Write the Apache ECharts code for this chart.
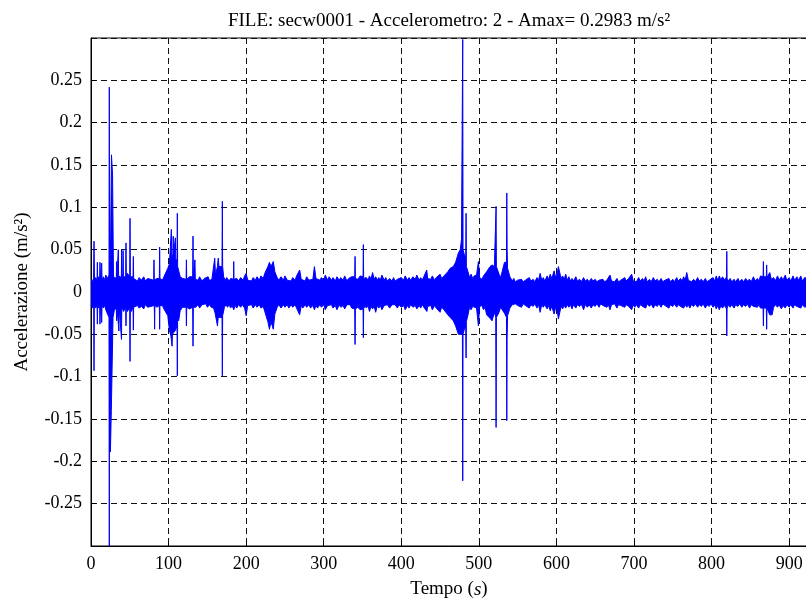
<!DOCTYPE html>
<html>
<head>
<meta charset="utf-8">
<script src="https://cdn.jsdelivr.net/npm/echarts@6/dist/echarts.min.js"></script>
<style>html,body{margin:0;padding:0;background:#fff;}#c{width:806px;height:600px;}</style>
</head>
<body>
<div id="c"></div>
<script>
const titleText = 'FILE: secw0001 - Accelerometro: 2 - Amax= 0.2983 m/s\u00B2';
const xAxisTitle = 'Tempo ({i|s})';
const yAxisTitle = 'Accelerazione (m/s\u00B2)';
const xTickInterval = 100;
const yTickInterval = 0.05;

// upper envelope of the signal [time s, acceleration m/s2]
const upperPeaks = [
[0,0.014],[2,0.016],[3.3,0.014],[3.9,0.06],[4.5,0.014],[6,0.017],[7.8,0.014],[8.2,0.035],[8.6,0.014],[10,0.018],
[11.2,0.014],[11.6,0.035],[12,0.014],[13.4,0.014],[13.8,0.034],[14.2,0.014],[16,0.018],[18,0.014],[19,0.02],[21,0.016],
[23.2,0.02],[23.6,0.242],[24.0,0.03],[25,0.04],[25.6,0.04],[26.4,0.162],[27.4,0.162],[27.8,0.138],[28.6,0.138],[29,0.018],
[31,0.016],[32.6,0.016],[33,0.036],[33.4,0.016],[34.8,0.016],[35.2,0.05],[35.6,0.016],[37,0.019],
[39.1,0.016],[39.5,0.05],[39.9,0.016],[41,0.022],[41.4,0.049],[41.8,0.018],[43,0.02],
[44.7,0.018],[45.1,0.058],[45.5,0.018],[47,0.022],[49.9,0.018],[50.3,0.087],[50.7,0.018],[52,0.02],
[54.2,0.018],[54.6,0.042],[55,0.016],[57,0.018],[60,0.013],[62,0.017],[65,0.014],[68,0.018],[70,0.013],[73,0.016],[75,0.014],
[80.8,0.014],[81.2,0.038],[81.6,0.014],[85,0.016],[88.1,0.016],[88.5,0.053],[88.9,0.016],[92,0.014],[94,0.018],[96,0.016],
[99,0.028],[101,0.033],[103.2,0.035],[103.6,0.074],[104,0.04],[105.5,0.045],[106,0.066],[106.5,0.045],
[108.4,0.045],[108.8,0.064],[109.2,0.04],[110.9,0.035],[111.3,0.093],[111.7,0.03],[113,0.028],[115,0.018],[118,0.016],
[122.6,0.015],[123,0.038],[123.4,0.015],[127,0.018],[131.1,0.018],[131.5,0.066],[131.9,0.018],
[133.5,0.018],[134,0.038],[134.5,0.015],[138,0.014],[140,0.018],[143,0.013],[146,0.016],[148,0.014],[151,0.018],[153,0.013],[156,0.016],[158,0.018],
[159.5,0.04],[160,0.04],[160.5,0.02],[163,0.03],[164,0.04],[164.5,0.04],[165,0.03],
[168.9,0.03],[169.3,0.107],[169.7,0.03],[171,0.018],[173,0.014],[175,0.017],[178,0.013],[180,0.016],[183.6,0.015],[184,0.036],[184.4,0.015],
[188,0.016],[190,0.013],[193,0.017],[196,0.014],[198,0.019],[200,0.022],[202,0.014],[204,0.016],[207,0.013],[209,0.017],[212,0.014],[214,0.018],[217,0.014],[219,0.019],[222,0.016],[224,0.022],
[228,0.03],[230,0.035],[232,0.03],[235,0.036],[237,0.024],[240,0.017],[242,0.014],[245,0.018],[248,0.014],[250,0.019],[253,0.014],[255,0.016],
[258,0.013],[260,0.017],[263,0.014],[265,0.019],[269,0.026],[271,0.015],[273,0.017],[276,0.013],[278,0.018],[281,0.014],[283,0.016],[286,0.015],[288,0.03],[290,0.016],[292,0.018],[295,0.014],[297,0.017],
[300,0.014],[302,0.02],[305,0.014],[307,0.018],[310,0.014],[312,0.017],[315,0.013],[317,0.018],[320,0.014],[322,0.017],[325,0.014],[327,0.019],[330,0.013],[332,0.016],[334,0.014],[336,0.018],
[340,0.018],[340.4,0.042],[340.8,0.016],[344,0.015],[347,0.019],[350.7,0.018],[351.1,0.056],[351.5,0.016],
[353,0.014],[355,0.017],[357,0.014],[359,0.019],[361,0.015],[363,0.023],[365,0.015],[367,0.018],[369,0.014],[371,0.017],[373,0.014],[375,0.02],[378,0.014],[380,0.017],[382,0.013],[385,0.016],[388,0.013],[390,0.017],
[392,0.013],[395,0.015],[397,0.013],[400,0.017],[403,0.014],[405,0.019],[408,0.014],[410,0.017],[412,0.014],[415,0.018],[418,0.015],[420,0.02],[423,0.014],[425,0.017],[427,0.014],[429,0.018],[432.8,0.026],
[434,0.016],[436,0.018],[438,0.015],[440,0.019],[443,0.014],[445,0.017],[447,0.015],[450,0.021],[452,0.016],[455,0.019],[457,0.017],[460,0.024],[463,0.028],[467,0.03],[470,0.035],
[473.6,0.046],[476,0.05],[477.6,0.062],[478.8,0.062],[479.2,0.2983],[479.6,0.05],[481,0.045],
[483.1,0.04],[483.5,0.093],[483.9,0.03],[486,0.024],[488,0.017],[490,0.021],[492,0.016],[494,0.019],[497,0.02],[499.4,0.036],
[501,0.017],[502,0.019],[504,0.015],[506,0.019],[508,0.017],[510,0.024],[514.4,0.03],[517,0.032],[520,0.03],[521.8,0.03],[522.2,0.101],[522.6,0.03],
[526,0.021],[528,0.017],[530,0.024],[533,0.035],[535.6,0.035],[536,0.117],[536.4,0.052],[537,0.028],[540,0.018],
[543,0.013],[545,0.016],[547,0.012],[550,0.014],[552,0.012],[555,0.015],[557,0.012],[560,0.014],[562,0.012],[565,0.017],[567,0.013],[570,0.015],[572,0.012],[575,0.017],[577,0.014],[579,0.022],[581,0.014],[583,0.017],
[585,0.013],[588,0.019],[590,0.015],[592,0.021],[594,0.016],[597,0.025],[599,0.017],[601,0.022],[602.5,0.03],[604,0.032],[606,0.016],[608,0.019],[610,0.015],[612,0.021],[614,0.014],[616,0.018],[618,0.013],[620,0.016],
[622,0.013],[625,0.018],[627,0.013],[630,0.015],[632,0.012],[635,0.017],[637,0.013],[640,0.015],[642,0.012],[645,0.016],[647,0.013],[650,0.015],[652,0.012],[655,0.014],[657,0.012],[660,0.015],[662,0.012],[665,0.014],
[667,0.013],[669,0.02],[671,0.013],[673,0.015],[675,0.012],[678,0.016],[680,0.012],[683,0.014],[685,0.012],[688,0.017],[690,0.013],[693,0.016],[695,0.014],[697,0.021],[699,0.013],[701,0.015],[703,0.012],[706,0.017],
[708,0.013],[711,0.016],[713,0.013],[715,0.018],[717,0.012],[720,0.015],[722,0.012],[725,0.017],[727,0.013],[730,0.015],[732,0.012],[735,0.016],[737,0.012],[740,0.014],[742,0.012],[745,0.016],[747,0.012],[750,0.015],
[752,0.012],[755,0.017],[757,0.013],[760,0.016],[762,0.013],[764,0.018],[766,0.014],[768,0.023],[770,0.014],[772,0.016],[774,0.012],[777,0.015],[779,0.012],[782,0.017],[784,0.013],[787,0.015],[789,0.012],[792,0.016],
[794,0.012],[797,0.014],[799,0.012],[802,0.017],[804,0.013],[806,0.019],[808,0.014],[810,0.019],[812,0.014],[814,0.018],[817,0.014],[819.2,0.018],[819.6,0.048],[820,0.016],[822,0.013],[824,0.016],
[826,0.012],[829,0.015],[831,0.012],[834,0.016],[836,0.012],[839,0.015],[841,0.012],[844,0.016],[846,0.013],[849,0.015],[851,0.012],[854,0.018],[856,0.013],[859,0.016],[861,0.013],[863,0.019],
[866.4,0.018],[866.8,0.036],[867.2,0.018],[870.6,0.018],[871,0.032],[871.4,0.017],[873,0.015],[875,0.023],[877,0.015],[880,0.017],[882,0.013],
[885,0.019],[887,0.014],[890,0.018],[892,0.014],[895,0.02],[897,0.014],[900,0.017],[902,0.013],[905,0.019],[907,0.014],[910,0.018],[912,0.014],[915,0.019],[917,0.013],[920,0.017],[923,0.016]
];

// lower envelope of the signal [time s, acceleration m/s2]
const lowerPeaks = [
[0,-0.016],[2,-0.019],[3.5,-0.016],[3.9,-0.093],[4.3,-0.016],[6,-0.019],[7.8,-0.016],[8.2,-0.038],[8.6,-0.016],[10,-0.019],
[11.2,-0.016],[11.6,-0.038],[12,-0.016],[13.4,-0.016],[13.8,-0.036],[14.2,-0.016],[16,-0.019],[18,-0.016],[19,-0.021],[21,-0.022],
[23.2,-0.03],[23.6,-0.3],[24,-0.04],[25,-0.189],[25.8,-0.189],[26.2,-0.14],[28,-0.14],[28.4,-0.03],[30,-0.022],
[32.6,-0.018],[33,-0.034],[33.4,-0.018],[35.6,-0.018],[36,-0.046],[36.4,-0.018],[38.9,-0.018],[39.3,-0.056],[39.7,-0.018],
[42,-0.023],[44.7,-0.018],[45.1,-0.04],[45.5,-0.018],[47,-0.023],[49.9,-0.018],[50.3,-0.082],[50.7,-0.018],[52,-0.023],
[54.2,-0.018],[54.6,-0.045],[55,-0.018],[57,-0.02],[60,-0.016],[62,-0.019],[65,-0.017],[68,-0.02],[70,-0.015],[73,-0.018],[75,-0.016],
[81.6,-0.016],[82,-0.044],[82.4,-0.016],[85,-0.018],[88.1,-0.016],[88.5,-0.044],[88.9,-0.016],[92,-0.016],[94,-0.02],[96,-0.019],
[99,-0.028],[101,-0.045],[103,-0.052],[104.5,-0.064],[105,-0.05],[107,-0.05],[109,-0.045],
[110.9,-0.04],[111.3,-0.099],[111.7,-0.03],[113,-0.034],[115,-0.022],[118,-0.018],
[122.6,-0.018],[123,-0.04],[123.4,-0.018],[127,-0.02],[131.1,-0.018],[131.5,-0.064],[131.9,-0.018],
[135,-0.018],[138,-0.015],[140,-0.019],[143,-0.015],[145,-0.017],[148,-0.014],[150,-0.018],[153,-0.015],[155,-0.018],[158,-0.019],[160,-0.025],[163,-0.04],[164,-0.03],
[168.9,-0.03],[169.3,-0.099],[169.7,-0.028],[172,-0.018],[174,-0.015],[176,-0.018],[178,-0.015],[180,-0.019],[182,-0.016],[184,-0.021],[186,-0.016],[188,-0.019],
[190,-0.015],[193,-0.018],[195,-0.015],[198,-0.019],[200,-0.028],[202,-0.016],[204,-0.018],[207,-0.015],[209,-0.019],[212,-0.015],[214,-0.018],[217,-0.015],[219,-0.019],[222,-0.017],[224,-0.023],
[228,-0.035],[230,-0.044],[232,-0.035],[235,-0.044],[237,-0.026],[240,-0.018],[242,-0.015],[245,-0.019],[248,-0.015],[250,-0.018],
[253,-0.015],[255,-0.019],[258,-0.015],[260,-0.018],[263,-0.015],[265,-0.019],[269,-0.027],[271,-0.016],[273,-0.019],[276,-0.015],[278,-0.018],[281,-0.015],[283,-0.019],[286,-0.016],[288,-0.021],
[290,-0.016],[292,-0.019],[295,-0.015],[297,-0.018],[300,-0.015],[302,-0.021],[305,-0.016],[307,-0.018],[310,-0.015],[312,-0.019],[315,-0.016],[317,-0.021],[320,-0.015],[322,-0.018],[325,-0.016],[327,-0.02],
[330,-0.015],[332,-0.017],[334,-0.015],[336,-0.019],[340,-0.02],[340.4,-0.062],[340.8,-0.02],[344,-0.018],[347,-0.021],
[350.7,-0.02],[351.1,-0.054],[351.5,-0.02],[353,-0.016],[355,-0.019],[357,-0.016],[359,-0.023],[361,-0.017],[363,-0.02],[365,-0.017],[367,-0.024],[369,-0.016],[371,-0.019],
[373,-0.016],[375,-0.021],[378,-0.016],[380,-0.018],[382,-0.015],[385,-0.019],[388,-0.015],[390,-0.017],[392,-0.015],[395,-0.019],[397,-0.015],[400,-0.018],[403,-0.016],[405,-0.021],[408,-0.016],[410,-0.019],
[412,-0.015],[415,-0.018],[418,-0.016],[420,-0.02],[423,-0.016],[425,-0.019],[427,-0.015],[429,-0.018],[433,-0.023],[434,-0.017],[436,-0.019],[438,-0.016],[440,-0.021],[443,-0.016],[445,-0.019],
[447,-0.017],[450,-0.024],[452,-0.018],[455,-0.021],[457,-0.019],[460,-0.027],[463,-0.03],[467,-0.034],[470,-0.04],[473.6,-0.05],[476,-0.05],
[478.8,-0.05],[479.2,-0.223],[479.6,-0.05],[481,-0.045],[483.1,-0.04],[483.5,-0.078],[483.9,-0.035],
[486,-0.027],[488,-0.018],[490,-0.021],[492,-0.017],[494,-0.019],[497,-0.019],[499.4,-0.04],[501,-0.017],[502,-0.019],[504,-0.016],[506,-0.021],[508,-0.018],[510,-0.027],
[514.4,-0.031],[517,-0.034],[520,-0.024],[521.8,-0.03],[522.2,-0.16],[522.6,-0.03],[526,-0.024],[528,-0.018],[530,-0.021],
[533,-0.025],[535.6,-0.03],[536,-0.152],[536.4,-0.056],[537,-0.028],[540,-0.019],[543,-0.015],[545,-0.017],[547,-0.014],[550,-0.016],
[552,-0.014],[555,-0.018],[557,-0.014],[560,-0.016],[562,-0.014],[565,-0.019],[567,-0.015],[570,-0.017],[572,-0.014],[575,-0.019],[577,-0.015],[579,-0.024],[581,-0.015],[583,-0.018],[585,-0.015],[588,-0.02],
[590,-0.016],[592,-0.022],[594,-0.017],[597,-0.026],[599,-0.018],[601,-0.021],[602.5,-0.032],[604,-0.03],[606,-0.017],[608,-0.02],[610,-0.016],[612,-0.019],[614,-0.015],[616,-0.018],[618,-0.015],[620,-0.02],
[622,-0.015],[625,-0.019],[627,-0.015],[630,-0.017],[632,-0.014],[635,-0.021],[637,-0.015],[640,-0.018],[642,-0.015],[645,-0.019],[647,-0.015],[650,-0.017],[652,-0.014],[655,-0.018],[657,-0.014],[660,-0.016],
[662,-0.014],[665,-0.018],[667,-0.015],[669,-0.021],[671,-0.015],[673,-0.017],[675,-0.014],[678,-0.019],[680,-0.015],[683,-0.016],[685,-0.014],[688,-0.018],[690,-0.015],[693,-0.017],[695,-0.015],[697,-0.021],
[699,-0.015],[701,-0.018],[703,-0.015],[706,-0.019],[708,-0.015],[711,-0.017],[713,-0.015],[715,-0.019],[717,-0.014],[720,-0.017],[722,-0.014],[725,-0.019],[727,-0.015],[730,-0.017],[732,-0.014],[735,-0.018],
[737,-0.014],[740,-0.016],[742,-0.014],[745,-0.019],[747,-0.015],[750,-0.017],[752,-0.014],[755,-0.018],[757,-0.015],[760,-0.017],[762,-0.015],[764,-0.019],[766,-0.015],[768,-0.018],[770,-0.015],[772,-0.019],
[774,-0.015],[777,-0.017],[779,-0.014],[782,-0.018],[784,-0.015],[787,-0.017],[789,-0.014],[792,-0.019],[794,-0.015],[797,-0.017],[799,-0.014],[802,-0.018],[804,-0.015],[806,-0.02],[808,-0.016],[810,-0.021],
[812,-0.016],[814,-0.019],[817,-0.016],[819.2,-0.02],[819.6,-0.052],[820,-0.019],[822,-0.015],[824,-0.018],[826,-0.015],[829,-0.019],[831,-0.015],[834,-0.017],[836,-0.014],[839,-0.018],[841,-0.015],
[844,-0.017],[846,-0.014],[849,-0.019],[851,-0.015],[854,-0.017],[856,-0.015],[859,-0.018],[861,-0.015],[863,-0.019],[866.4,-0.019],[866.8,-0.04],[867.2,-0.019],
[870.6,-0.019],[871,-0.044],[871.4,-0.019],[873,-0.02],[875,-0.027],[878,-0.027],[880,-0.018],[882,-0.015],[885,-0.018],[887,-0.015],[890,-0.02],[892,-0.016],
[895,-0.019],[897,-0.015],[900,-0.018],[902,-0.015],[905,-0.019],[907,-0.015],[910,-0.017],[912,-0.015],[915,-0.019],[917,-0.015],[920,-0.018],[923,-0.017]
];

const FONT = 'Liberation Serif';
const BLUE = '#0000ff';
const chart = echarts.init(document.getElementById('c'), null, {renderer: 'canvas'});

function envelopeSeries(data) {
  return {
    type: 'line', data: data, showSymbol: false, symbol: 'none', clip: true,
    lineStyle: {color: BLUE, width: 1}, itemStyle: {color: BLUE},
    areaStyle: {color: BLUE, opacity: 1},
    silent: true, z: 2
  };
}

const option = {
  animation: false,
  backgroundColor: '#ffffff',
  title: {
    text: titleText, left: 444, top: 7, textAlign: 'center',
    textStyle: {fontFamily: FONT, fontSize: 19, fontWeight: 'normal', color: '#000'}
  },
  grid: {left: 91, top: 38, width: 716, height: 508, outerBoundsMode: 'none', containLabel: false,
         show: true, borderColor: '#000', borderWidth: 1, backgroundColor: 'transparent'},
  xAxis: {
    type: 'value', min: 0, max: 923, interval: xTickInterval,
    name: xAxisTitle, nameLocation: 'middle', nameGap: 34,
    nameTextStyle: {fontFamily: FONT, fontSize: 19, color: '#000', rich: {i: {fontFamily: FONT, fontSize: 19, fontStyle: 'italic', color: '#000'}}},
    axisLine: {show: true, onZero: false, lineStyle: {color: '#000', width: 1}},
    axisTick: {show: true, inside: true, length: 5, lineStyle: {color: '#000'}},
    axisLabel: {showMaxLabel: false, margin: 9, color: '#000', fontFamily: FONT, fontSize: 18},
    splitLine: {show: true, lineStyle: {color: '#111', width: 1, type: [6, 4]}}
  },
  yAxis: {
    type: 'value', min: -0.3, max: 0.3, interval: yTickInterval,
    name: yAxisTitle, nameLocation: 'middle', nameGap: 59, nameRotate: 90,
    nameTextStyle: {fontFamily: FONT, fontSize: 19, color: '#000'},
    axisLine: {show: true, onZero: false, lineStyle: {color: '#000', width: 1}},
    axisTick: {show: true, inside: true, length: 5, lineStyle: {color: '#000'}},
    axisLabel: {showMinLabel: false, showMaxLabel: false, margin: 9, color: '#000', fontFamily: FONT, fontSize: 18},
    splitLine: {show: true, lineStyle: {color: '#111', width: 1, type: [6, 4]}}
  },
  series: [envelopeSeries(upperPeaks), envelopeSeries(lowerPeaks)]
};
chart.setOption(option);
</script>
</body>
</html>
